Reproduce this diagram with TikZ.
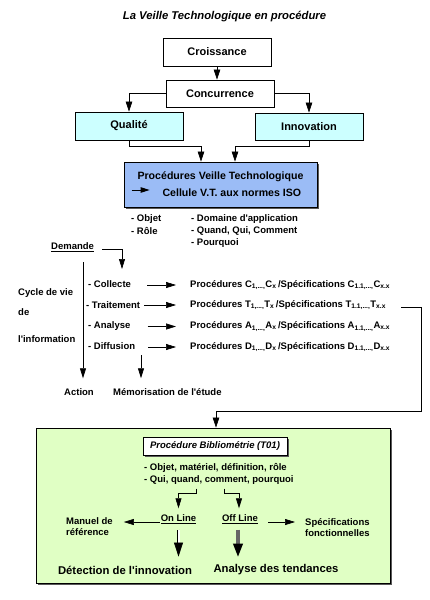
\documentclass[tikz,border=0pt]{standalone}
\usepackage{fontspec}
\setmainfont{Liberation Sans}[Ligatures=TeXOff]
\usetikzlibrary{arrows.meta,shadows}
\definecolor{cyanbox}{RGB}{204,255,255}
\definecolor{bluebox}{RGB}{155,188,246}
\definecolor{greenbox}{RGB}{224,255,196}
\begin{document}
\begin{tikzpicture}[x=1pt,y=-1pt,
  font=\bfseries\fontsize{9.5}{11}\selectfont,
  boxnode/.style={draw, line width=0.8pt, minimum width=108pt, minimum height=28pt, inner sep=0pt, font=\bfseries\fontsize{11}{13}\selectfont},
  arr/.style={-{Triangle[length=10pt,width=6.5pt]}, line width=0.7pt},
  sarr/.style={-{Triangle[length=10pt,width=6pt]}, line width=0.6pt},
  txt/.style={inner sep=0pt, anchor=west},
  bigtxt/.style={inner sep=0pt, font=\bfseries\fontsize{11.3}{13}\selectfont},
  shadowed/.style={general shadow={fill=gray!70!black, shadow xshift=1.5pt, shadow yshift=-1.5pt}}
]
\useasboundingbox (0,0) rectangle (430,600);
\fill[white] (0,0) rectangle (430,600);

% title
\node[font=\bfseries\itshape\fontsize{11.3}{13}\selectfont] (title) at (224.5,17) {La Veille Technologique en procédure};

% top boxes
\node[boxnode,fill=white] (croi) at (217,52) {Croissance};
\node[boxnode,fill=white,minimum height=27pt] (conc) at (220,93.5) {Concurrence};
\node[boxnode,fill=cyanbox] (qual) at (129,126) {Qualité};
\node[boxnode,fill=cyanbox,minimum height=27pt] (inno) at (309,126.5) {Innovation};
\node[boxnode,fill=bluebox,shadowed,minimum width=193pt,minimum height=45pt,align=left,font=\bfseries\fontsize{10.6}{17}\selectfont] (proc) at (220.5,184.5)
  {Procédures Veille Technologique\\\hspace*{25pt}Cellule V.T. aux normes ISO};
\draw[-{Triangle[length=9pt,width=5.5pt]}, line width=0.8pt] ([xshift=8pt,yshift=-5.5pt]proc.west) -- ++(18,0);

\draw[arr] (croi.south) -- (croi.south |- conc.north);
\draw[arr] (conc.west) -| (qual.north);
\draw[arr] (conc.east) -| (inno.north);
\draw[arr] (qual.south) -- ++(0,6) -| ([xshift=-19.5pt]proc.north);
\draw[arr] (inno.south) -- ++(0,6) -| ([xshift=14.5pt]proc.north);

% lists below procedures
\node[txt] (objet) at (131,219) {- Objet};
\node[txt] (role) at (131,231) {- Rôle};
\node[txt] (dom) at (191,219) {- Domaine d'application};
\node[txt] (quand) at (191,231) {- Quand, Qui, Comment};
\node[txt] (pourq) at (191,243) {- Pourquoi};

% Demande
\node[inner sep=0pt, anchor=base west] (dem) at (51,249.5) {\underline{Demande}};
\coordinate (demtip) at (122,269);
\draw[sarr] ([xshift=8pt]dem.base east) -| (demtip);

% cycle de vie
\node[txt] (cyc1) at (18,293) {Cycle de vie};
\node[txt] (cyc2) at (18,312) {de};
\node[txt] (cyc3) at (18,339) {l'information};

\coordinate (cyctop) at (83,262);
\node[txt] (action) at (64,392) {Action};
\draw[sarr] (cyctop) -- ([yshift=10pt]action.north -| cyctop);

\node[txt] (memo) at (113,392) {Mémorisation de l'étude};
\coordinate (memtop) at (141,355);
\draw[sarr] (memtop) -- ([yshift=10pt]memo.north -| memtop);

\node[txt] (col) at (88,284) {- Collecte};
\node[txt] (tra) at (86,305) {- Traitement};
\node[txt] (ana) at (88,326) {- Analyse};
\node[txt] (dif) at (88,346) {- Diffusion};

\node[txt] (pc) at (190,285) {Procédures C\textsubscript{1,...,}C\textsubscript{x}\,/Spécifications C\textsubscript{1.1,...,}C\textsubscript{x.x}};
\node[txt] (pt) at (190,305) {Procédures T\textsubscript{1,...,}T\textsubscript{x}\,/Spécifications T\textsubscript{1.1,...,}T\textsubscript{x.x}};
\node[txt] (pa) at (190,326.5) {Procédures A\textsubscript{1,...,}A\textsubscript{x}\,/Spécifications A\textsubscript{1.1,...,}A\textsubscript{x.x}};
\node[txt] (pd) at (190,347) {Procédures D\textsubscript{1,...,}D\textsubscript{x}\,/Spécifications D\textsubscript{1.1,...,}D\textsubscript{x.x}};

\draw[sarr, shorten <=16pt, shorten >=14pt] (col.east |- pc.west) -- (pc.west);
\draw[sarr, shorten <=4pt, shorten >=14pt] (tra.east |- pt.west) -- (pt.west);
\draw[sarr, shorten <=17pt, shorten >=14pt] (ana.east |- pa.west) -- (pa.west);
\draw[sarr, shorten <=13pt, shorten >=14pt] (dif.east |- pd.west) -- (pd.west);

% green box
\node[draw, line width=0.8pt, fill=greenbox, minimum width=354pt, minimum height=155pt, shadowed] (green) at (213,505.5) {};
\coordinate (tr2) at (421,411);
\draw[arr] ([xshift=15pt,yshift=-2pt]pt.east) -| (tr2) -| ([xshift=3pt]green.north);

\node[draw, line width=0.8pt, fill=white, minimum width=144pt, minimum height=18pt, inner sep=0pt, shadowed,
  font=\bfseries\itshape\fontsize{9.5}{11}\selectfont] (bib) at (215,446) {Procédure Bibliométrie (T01)};

\node[txt] (obj1) at (144,468) {- Objet, matériel, définition, rôle};
\node[txt] (obj2) at (144,480) {- Qui, quand, comment, pourquoi};

\node[inner sep=0pt] (online) at (178.5,519) {\underline{On Line}};
\node[inner sep=0pt] (offline) at (240,519) {\underline{Off Line}};

\draw[sarr, shorten >=6pt] ([xshift=-23pt,yshift=-4pt]obj2.south) -- ++(0,5) -| (online.north);
\draw[sarr, shorten >=6pt] ([xshift=5pt,yshift=-4pt]obj2.south) -- ++(0,5) -| ([xshift=-1pt]offline.north);

\node[txt, align=left] (man) at (66,527) {Manuel de\\référence};
\node[txt, align=left] (spec) at (305,528) {Spécifications\\fonctionnelles};

\draw[sarr, shorten <=1pt, shorten >=11pt] ([yshift=-3pt]online.west) -- ([yshift=-3pt]online.west -| man.east);
\draw[sarr, shorten <=10pt, shorten >=10pt] ([yshift=-3pt]offline.east) -- ([yshift=-3pt]offline.east -| spec.west);

\node[bigtxt] (det) at (125,570) {Détection de l'innovation};
\node[bigtxt] (tend) at (276,570) {Analyse des tendances};

\draw[double, double distance=2pt, line width=0.6pt, -{Triangle[length=14pt,width=9pt]}, shorten <=6pt, shorten >=9pt]
  (online.south) -- (online.south |- det.north);
\draw[line width=3.5pt, draw=gray!80!black, -{Triangle[length=14pt,width=9pt,color=black]}, shorten <=6pt, shorten >=7pt]
  ([xshift=-2pt]offline.south) -- ([xshift=-2pt]offline.south |- tend.north);
\end{tikzpicture}
\end{document}
